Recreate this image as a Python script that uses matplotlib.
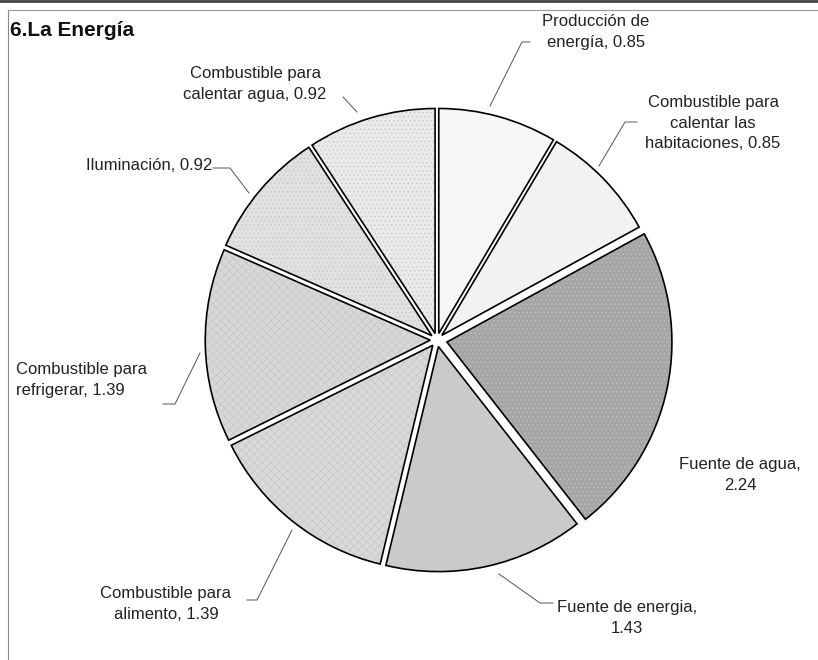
import numpy as np
import matplotlib.pyplot as plt

plt.rcParams['font.family'] = ['Liberation Sans', 'DejaVu Sans']

categories = ['Producción de\nenergía', 'Combustible para\ncalentar las\nhabitaciones',
              'Fuente de agua', 'Fuente de energia', 'Combustible para\nalimento',
              'Combustible para\nrefrigerar', 'Iluminación', 'Combustible para\ncalentar agua']
values = [0.85, 0.85, 2.24, 1.43, 1.39, 1.39, 0.92, 0.92]
label_texts = ['Producción de\nenergía, 0.85',
               'Combustible para\ncalentar las\nhabitaciones, 0.85',
               'Fuente de agua,\n2.24',
               'Fuente de energia,\n1.43',
               'Combustible para\nalimento, 1.39',
               'Combustible para\nrefrigerar, 1.39',
               'Iluminación, 0.92',
               'Combustible para\ncalentar agua, 0.92']
colors = ['#f6f6f6', '#f2f2f2', '#a6a6a6', '#cbcbcb',
          '#d9d9d9', '#d8d8d8', '#e1e1e1', '#eaeaea']
hatches = ['', '', '....', '....', 'xxxx', 'xxxx', '....', '....']

W, H = 818, 660
fig = plt.figure(figsize=(W / 100, H / 100), dpi=100)
ax = fig.add_axes([0, 0, 1, 1])

cx, cy = 437, H - 340
radius = 225
# pie explode is in data units here, so scale by radius
explode = [radius * e for e in [0.03, 0.03, 0.045, 0.03, 0.03, 0.03, 0.03, 0.03]]

plt.rcParams['hatch.linewidth'] = 0.4
wedges, _ = ax.pie(values, colors=colors, startangle=90, counterclock=False,
                   center=(cx, cy), radius=radius, explode=explode,
                   wedgeprops=dict(edgecolor='#c4c4c4', linewidth=0), frame=True)
for w, h in zip(wedges, hatches):
    w.set_hatch(h)
ax.pie(values, colors=['none'] * len(values), startangle=90, counterclock=False,
       center=(cx, cy), radius=radius, explode=explode,
       wedgeprops=dict(edgecolor='black', linewidth=1.2), frame=True)
ax.set_xlim(0, W)
ax.set_ylim(0, H)
ax.set_aspect('auto')
ax.axis('off')

# label positions (image pixels) and leader lines
label_pos = [(596, 32, 'center'), (713, 123, 'center'), (740, 475, 'center'),
             (627, 618, 'center'), (166, 604, 'center'), (16, 380, 'left'),
             (212, 166, 'right'), (255, 84, 'center')]
leaders = [
    [(530, 42), (522, 42), (490, 106)],
    [(637, 122), (625, 122), (599, 166)],
    None,
    [(553, 603), (540, 603), (499, 574)],
    [(247, 600), (257, 600), (292, 530)],
    [(163, 404), (175, 404), (200, 353)],
    [(213, 168), (230, 168), (249, 193)],
    [(343, 97), (357, 112)],
]
for (x, y, ha), txt in zip(label_pos, label_texts):
    ax.text(x, H - y, txt, ha=ha, va='center', fontsize=12,
            color='#222222', linespacing=1.5)
for pts in leaders:
    if pts is None:
        continue
    xs = [p[0] for p in pts]
    ys = [H - p[1] for p in pts]
    ax.plot(xs, ys, color='#555555', linewidth=0.7)

ax.text(10, H - 30, '6.La Energía', ha='left', va='center', fontsize=15,
        fontweight='bold', color='#111111')

# frame of the scanned chart
ax.plot([8, 8], [0, H - 10], color='#888888', linewidth=0.8)
ax.plot([8, W], [H - 10, H - 10], color='#999999', linewidth=0.8)
ax.plot([0, W], [H - 1, H - 1], color='#444444', linewidth=2)

fig.savefig('out.png', dpi=100)
